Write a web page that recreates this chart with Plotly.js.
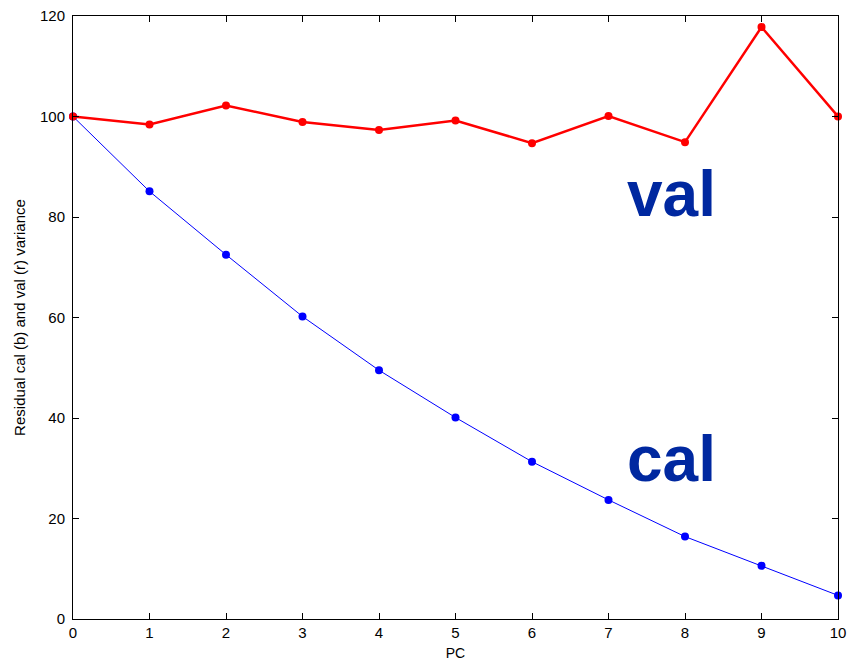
<!DOCTYPE html>
<html>
<head>
<meta charset="utf-8">
<script src="https://cdn.plot.ly/plotly-3.0.1.min.js"></script>
<style>html,body{margin:0;padding:0;background:#fff;}#chart{width:861px;height:664px;}</style>
</head>
<body>
<div id="chart"></div>
<script>
var pc = [0, 1, 2, 3, 4, 5, 6, 7, 8, 9, 10];
var valVariance = [100, 98.4, 102.2, 98.9, 97.3, 99.2, 94.7, 100.1, 94.9, 117.8, 100];
var calVariance = [100, 85.1, 72.5, 60.2, 49.5, 40.1, 31.3, 23.7, 16.4, 10.6, 4.7];
var xTicks = [0, 1, 2, 3, 4, 5, 6, 7, 8, 9, 10];
var yTicks = [0, 20, 40, 60, 80, 100, 120];

var font = 'Liberation Sans, Arial, sans-serif';
var traces = [
  {x: pc, y: calVariance, type: 'scatter', mode: 'lines+markers',
   line: {color: '#0000ff', width: 1}, marker: {color: '#0000ff', size: 8}, cliponaxis: false},
  {x: pc, y: valVariance, type: 'scatter', mode: 'lines+markers',
   line: {color: '#ff0000', width: 2.5}, marker: {color: '#ff0000', size: 8}, cliponaxis: false}
];
var axisCommon = {showgrid: false, zeroline: false, showline: true, linecolor: '#000', linewidth: 1,
  mirror: 'ticks', ticks: 'inside', ticklen: 6, tickcolor: '#000', tickfont: {family: font, size: 15, color: '#000'}};
var layout = {
  width: 861, height: 664,
  margin: {l: 73, r: 23, t: 16, b: 45},
  paper_bgcolor: '#fff', plot_bgcolor: '#fff',
  showlegend: false,
  font: {family: font, color: '#000'},
  xaxis: Object.assign({}, axisCommon, {range: [0, 10], tickvals: xTicks, ticktext: xTicks.map(String),
    title: {text: 'PC', font: {family: font, size: 14}, standoff: 8}}),
  yaxis: Object.assign({}, axisCommon, {range: [0, 120], tickvals: yTicks, ticktext: yTicks.map(String),
    ticklabelstandoff: 4,
    title: {text: 'Residual cal (b) and val (r) variance', font: {family: font, size: 15}, standoff: 10}}),
  annotations: [
    {x: 7.82, y: 84.6, xref: 'x', yref: 'y', text: '<b>val</b>', showarrow: false,
     xanchor: 'center', yanchor: 'middle', font: {family: font, size: 64, color: '#0028a0'}},
    {x: 7.82, y: 31.8, xref: 'x', yref: 'y', text: '<b>cal</b>', showarrow: false,
     xanchor: 'center', yanchor: 'middle', font: {family: font, size: 64, color: '#0028a0'}}
  ]
};
Plotly.newPlot('chart', traces, layout, {displayModeBar: false, staticPlot: true});
</script>
</body>
</html>
